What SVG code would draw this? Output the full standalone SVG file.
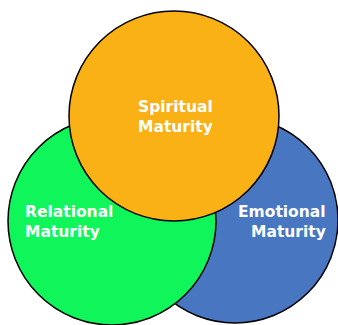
<svg xmlns="http://www.w3.org/2000/svg" width="338" height="325" viewBox="0 0 338 325">
<style>
.c{stroke:#000;stroke-width:1.5}
.t{font-family:"DejaVu Sans",Verdana,sans-serif;font-weight:bold;font-size:15.5px;fill:#fff}
</style>
<rect width="338" height="325" fill="#fff"/>
<g id="emotional">
<circle class="c" cx="235" cy="220" r="103" fill="#4876C0"/>
<text class="t" x="238" y="217">Emotional</text>
<text class="t" x="251" y="237">Maturity</text>
</g>
<g id="relational">
<circle class="c" cx="112" cy="221" r="104" fill="#10F55A"/>
<text class="t" x="25" y="217">Relational</text>
<text class="t" x="25" y="237">Maturity</text>
</g>
<g id="spiritual">
<circle class="c" cx="174" cy="116" r="105" fill="#F9B115"/>
<text class="t" x="138" y="112">Spiritual</text>
<text class="t" x="138" y="132">Maturity</text>
</g>
<g id="connectors"/>
</svg>
